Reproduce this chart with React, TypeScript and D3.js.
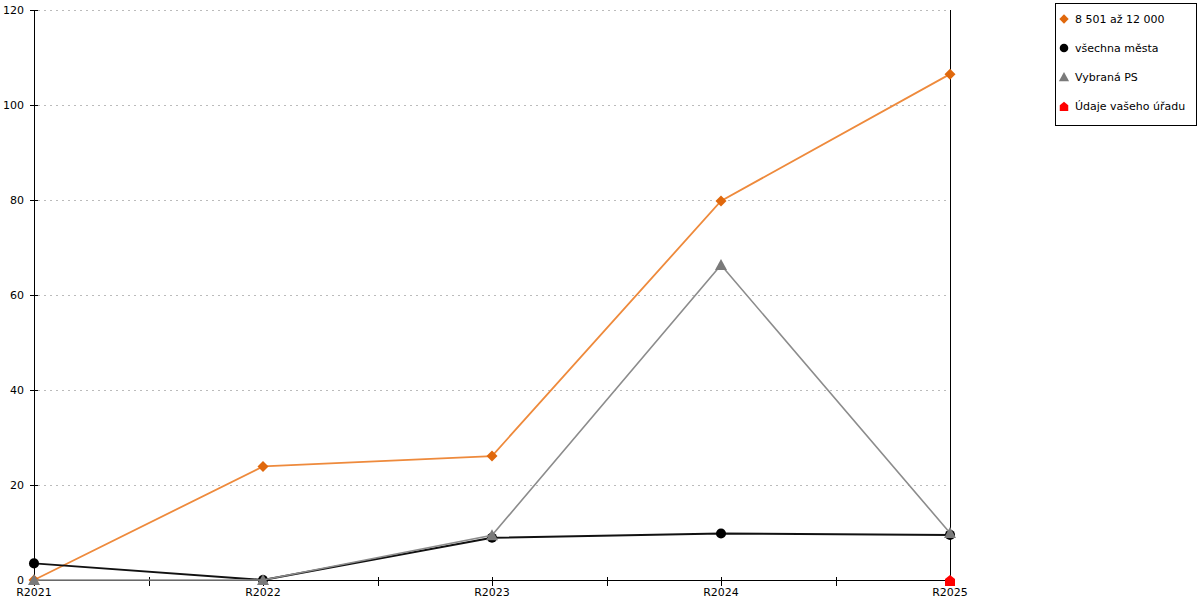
import React, { useRef, useEffect } from "react";
import * as d3 from "d3";

const categories = ["R2021", "R2022", "R2023", "R2024", "R2025"];
const orangeValues = [0, 23.9, 26.1, 79.8, 106.5];
const blackValues = [3.5, 0, 8.9, 9.8, 9.5];
const grayValues = [0, 0, 9.4, 66.3, 9.9];
const redValues: (number | null)[] = [null, null, null, null, 0];
const yTicks = [0, 20, 40, 60, 80, 100, 120];
const legendLabels = ["8 501 až 12 000", "všechna města", "Vybraná PS", "Údaje vašeho úřadu"];

const width = 1200;
const height = 600;

const App: React.FC = () => {
  const svgRef = useRef<SVGSVGElement | null>(null);

  useEffect(() => {
    if (!svgRef.current) return;
    const svg = d3.select(svgRef.current);
    svg.selectAll("*").remove();

    const left = 34;
    const right = 950;
    const top = 10;
    const bottom = 580;

    const x = d3.scalePoint<string>().domain(categories).range([left, right]);
    const y = d3.scaleLinear().domain([0, 120]).range([bottom, top]);
    const font = "DejaVu Sans, sans-serif";

    // Gridlines
    svg
      .append("g")
      .selectAll("line")
      .data(yTicks.filter((t) => t > 0))
      .enter()
      .append("line")
      .attr("x1", left + 4)
      .attr("x2", right)
      .attr("y1", (d) => y(d) + 0.5)
      .attr("y2", (d) => y(d) + 0.5)
      .attr("stroke", "#bbb")
      .attr("stroke-dasharray", "2,4");

    // Y axis
    const yAxis = svg.append("g");
    yAxis
      .append("line")
      .attr("x1", left + 0.5)
      .attr("x2", left + 0.5)
      .attr("y1", top)
      .attr("y2", bottom)
      .attr("stroke", "#000");
    yAxis
      .selectAll("line.tick")
      .data(yTicks)
      .enter()
      .append("line")
      .attr("class", "tick")
      .attr("x1", left - 4)
      .attr("x2", left + 4)
      .attr("y1", (d) => y(d) + 0.5)
      .attr("y2", (d) => y(d) + 0.5)
      .attr("stroke", "#000");
    yAxis
      .selectAll("text")
      .data(yTicks)
      .enter()
      .append("text")
      .attr("x", left - 10)
      .attr("y", (d) => y(d) + 4)
      .attr("text-anchor", "end")
      .attr("font-family", font)
      .attr("font-size", 11)
      .text((d) => d);

    // Right border
    svg
      .append("line")
      .attr("x1", right + 0.5)
      .attr("x2", right + 0.5)
      .attr("y1", top)
      .attr("y2", bottom)
      .attr("stroke", "#000");

    // X axis
    const xAxis = svg.append("g");
    xAxis
      .append("line")
      .attr("x1", left)
      .attr("x2", right)
      .attr("y1", bottom + 0.5)
      .attr("y2", bottom + 0.5)
      .attr("stroke", "#000");
    const step = x.step();
    const xTickPos: number[] = [];
    categories.forEach((c, i) => {
      xTickPos.push(x(c)!);
      if (i < categories.length - 1) xTickPos.push(x(c)! + step / 2);
    });
    xAxis
      .selectAll("line.tick")
      .data(xTickPos)
      .enter()
      .append("line")
      .attr("class", "tick")
      .attr("x1", (d) => Math.round(d) + 0.5)
      .attr("x2", (d) => Math.round(d) + 0.5)
      .attr("y1", bottom - 3)
      .attr("y2", bottom + 6)
      .attr("stroke", "#000");
    xAxis
      .selectAll("text")
      .data(categories)
      .enter()
      .append("text")
      .attr("x", (d) => x(d)!)
      .attr("y", bottom + 16)
      .attr("text-anchor", "middle")
      .attr("font-family", font)
      .attr("font-size", 11)
      .text((d) => d);

    const series = [
      { values: orangeValues, line: "#ee8a3c", fill: "#e0680c", shape: "diamond", width: 1.8 },
      { values: blackValues, line: "#111", fill: "#000", shape: "circle", width: 2 },
      { values: grayValues, line: "#8c8c8c", fill: "#7a7a7a", shape: "triangle", width: 1.6 },
      { values: redValues, line: "#f00", fill: "#f00", shape: "house", width: 1.5 },
    ];

    const shapePath = (shape: string) => {
      switch (shape) {
        case "diamond":
          return "M0,-5.5L5.5,0L0,5.5L-5.5,0Z";
        case "triangle":
          return "M0,-6L6,5L-6,5Z";
        case "house":
          return "M-5,6L-5,-1L0,-5L5,-1L5,6Z";
        default:
          return d3.symbol(d3.symbolCircle, 80)()!;
      }
    };

    series.forEach((s) => {
      const pts = s.values
        .map((v, i) => ({ c: categories[i], v }))
        .filter((p) => p.v !== null) as { c: string; v: number }[];
      const line = d3
        .line<{ c: string; v: number }>()
        .x((d) => x(d.c)!)
        .y((d) => y(d.v));
      if (pts.length > 1) {
        svg
          .append("path")
          .attr("d", line(pts))
          .attr("fill", "none")
          .attr("stroke", s.line)
          .attr("stroke-width", s.width);
      }
      svg
        .append("g")
        .selectAll("path")
        .data(pts)
        .enter()
        .append("path")
        .attr("transform", (d) => `translate(${x(d.c)},${y(d.v)})`)
        .attr("d", shapePath(s.shape))
        .attr("fill", s.fill);
    });

    // Legend
    const lg = svg.append("g");
    lg.append("rect")
      .attr("x", 1055.5)
      .attr("y", 3.5)
      .attr("width", 141)
      .attr("height", 122)
      .attr("fill", "#fff")
      .attr("stroke", "#000");
    series.forEach((s, i) => {
      const cy = 19 + i * 29;
      lg.append("path")
        .attr("transform", `translate(1064,${cy}) scale(0.85)`)
        .attr("d", shapePath(s.shape))
        .attr("fill", s.fill);
      lg.append("text")
        .attr("x", 1075)
        .attr("y", cy + 4)
        .attr("font-family", font)
        .attr("font-size", 11)
        .text(legendLabels[i]);
    });
  }, []);

  return (
    <svg
      ref={svgRef}
      width={width}
      height={height}
      style={{ position: "absolute", left: 0, top: 0, background: "#fff" }}
    />
  );
};

export default App;
